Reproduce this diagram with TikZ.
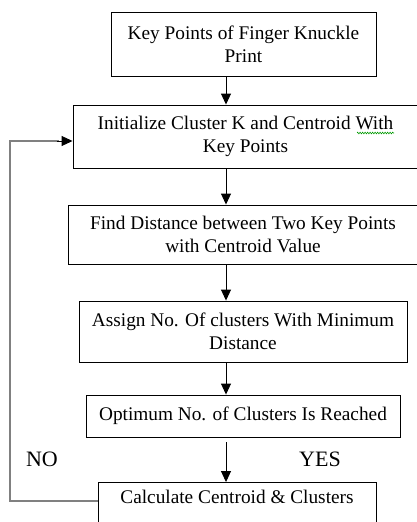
\documentclass[tikz,border=0pt]{standalone}
\usepackage{fontspec}
\setmainfont{Liberation Serif}
\newfontfamily\tnr{Liberation Serif}
\usetikzlibrary{arrows.meta,decorations.pathmorphing}
\begin{document}
\begin{tikzpicture}[x=1pt,y=-1pt,
  box/.style={draw, line width=0.9pt, align=center, inner sep=0pt,
    font=\tnr\fontsize{19.3}{23}\selectfont},
  flow/.style={draw, line width=0.9pt, -{Triangle[length=11pt,width=10pt]}},
  loopline/.style={draw=black!50, line width=1.4pt},
  lbl/.style={font=\tnr\fontsize{22}{26}\selectfont, inner sep=0pt}]
\useasboundingbox (0,0) rectangle (417,522);
\clip (0,0) rectangle (417,522);
\node[box, minimum width=265pt, minimum height=64pt] (kp) at (243.5,44)
  {Key Points of Finger Knuckle\\Print};
\node[box, minimum width=345pt, minimum height=63pt] (init) at (245.5,136.5)
  {Initialize Cluster K and Centroid With\\Key Points};
\node[box, minimum width=350pt, minimum height=59pt] (dist) at (243,234.5)
  {Find Distance between Two Key Points\\with Centroid Value};
\node[box, minimum width=328pt, minimum height=61pt] (assign) at (243,331.5)
  {Assign No. Of clusters With Minimum\\Distance};
\node[box, minimum width=314pt, minimum height=42pt] (opt) at (243,416)
  {Optimum No. of Clusters Is Reached};
\node[box, minimum width=278pt, minimum height=58pt] (calc) at (237,511.5)
  {Calculate Centroid \& Clusters\\\strut};
\node[lbl] (no) at (42,459) {NO};
\node[lbl] (yes) at (320,459) {YES};
\coordinate (w1) at (357,133);
\coordinate (w2) at (394,133);
\draw[green!60!black, line width=0.6pt, decorate,
  decoration={zigzag, amplitude=0.8pt, segment length=2.5pt}] (w1) -- (w2);
\draw[flow] (kp.south -| 226,0) -- (init.north -| 226,0);
\draw[flow] (init.south -| 226,0) -- (dist.north -| 226,0);
\draw[flow] (dist.south -| 226,0) -- (assign.north -| 226,0);
\draw[flow] (assign.south -| 226,0) -- (opt.north -| 226,0);
\draw[flow] ([yshift=-5pt]opt.south -| 226,0) -- (calc.north -| 226,0);
\coordinate (la) at (10,501);
\coordinate (lb) at (10,141);
\draw[loopline] (calc.west |- la) -- (la) -- (lb) -- ([xshift=-14pt]init.west |- lb);
\draw[flow] ([xshift=-16pt]init.west |- lb) -- (init.west |- lb);
\end{tikzpicture}
\end{document}
